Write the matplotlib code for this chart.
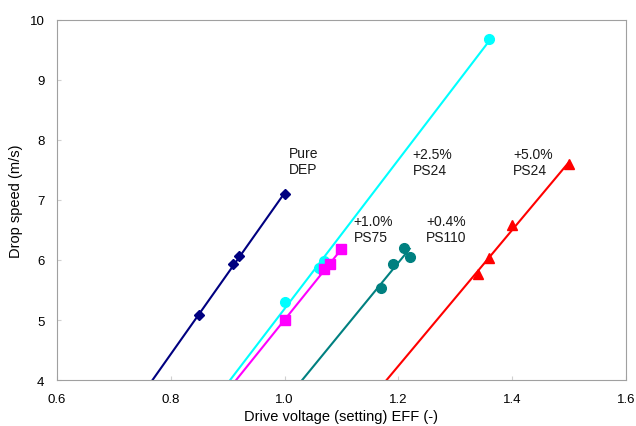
import matplotlib
matplotlib.use('Agg')
import matplotlib.pyplot as plt
import numpy as np

plt.rcParams['font.family'] = ['Liberation Sans', 'DejaVu Sans']

# drop speed vs drive voltage, one series per ink
x_dep = [0.85, 0.91, 0.92, 1.00]
y_dep = [5.08, 5.93, 6.06, 7.10]

x_25 = [1.00, 1.06, 1.07, 1.36]
y_25 = [5.30, 5.87, 5.98, 9.68]

x_10 = [1.00, 1.07, 1.08, 1.10]
y_10 = [5.00, 5.85, 5.93, 6.18]

x_04 = [1.17, 1.19, 1.21, 1.22]
y_04 = [5.53, 5.93, 6.20, 6.05]

x_50 = [1.34, 1.36, 1.40, 1.50]
y_50 = [5.77, 6.04, 6.59, 7.60]

labels = ['Pure\nDEP', '+2.5%\nPS24', '+1.0%\nPS75', '+0.4%\nPS110', '+5.0%\nPS24']
label_pos = [(1.007, 7.90), (1.225, 7.88), (1.121, 6.77), (1.249, 6.77), (1.402, 7.88)]

series = [
    (x_dep, y_dep, '#000080', 'D', 5.5),
    (x_25, y_25, '#00FFFF', 'o', 7),
    (x_10, y_10, '#FF00FF', 's', 6.5),
    (x_04, y_04, '#008080', 'o', 7),
    (x_50, y_50, '#FF0000', '^', 7),
]

fig = plt.figure(figsize=(6.36, 4.27), dpi=100)
ax = fig.add_axes([0.0896, 0.1077, 0.8946, 0.8432])

for xs, ys, col, mk, ms in series:
    a, b = np.polyfit(xs, ys, 1)
    x0 = (3.8 - b) / a
    xl = np.array([x0, max(xs)])
    ax.plot(xl, a * xl + b, color=col, lw=1.5, zorder=2)
    ax.plot(xs, ys, ls='none', marker=mk, color=col, ms=ms, zorder=3)

for txt, (tx, ty) in zip(labels, label_pos):
    ax.text(tx, ty, txt, fontsize=10, va='top', ha='left', color='#1a1a1a')

ax.set_xlim(0.6, 1.6)
ax.set_ylim(4, 10)
ax.set_xticks(np.arange(0.6, 1.61, 0.2))
ax.set_xticklabels(['0.6', '0.8', '1.0', '1.2', '1.4', '1.6'])
ax.set_yticks(range(4, 11))
ax.tick_params(direction='in', length=3, color='#d0d0d0', labelsize=9.5)
ax.tick_params(axis='x', pad=9)
ax.tick_params(axis='y', pad=9)
for sp in ax.spines.values():
    sp.set_color('#a0a0a0')
ax.set_xlabel('Drive voltage (setting) EFF (-)', fontsize=10.5, labelpad=3)
ax.set_ylabel('Drop speed (m/s)', fontsize=10.5, labelpad=5)

fig.savefig('out.png', dpi=100)
